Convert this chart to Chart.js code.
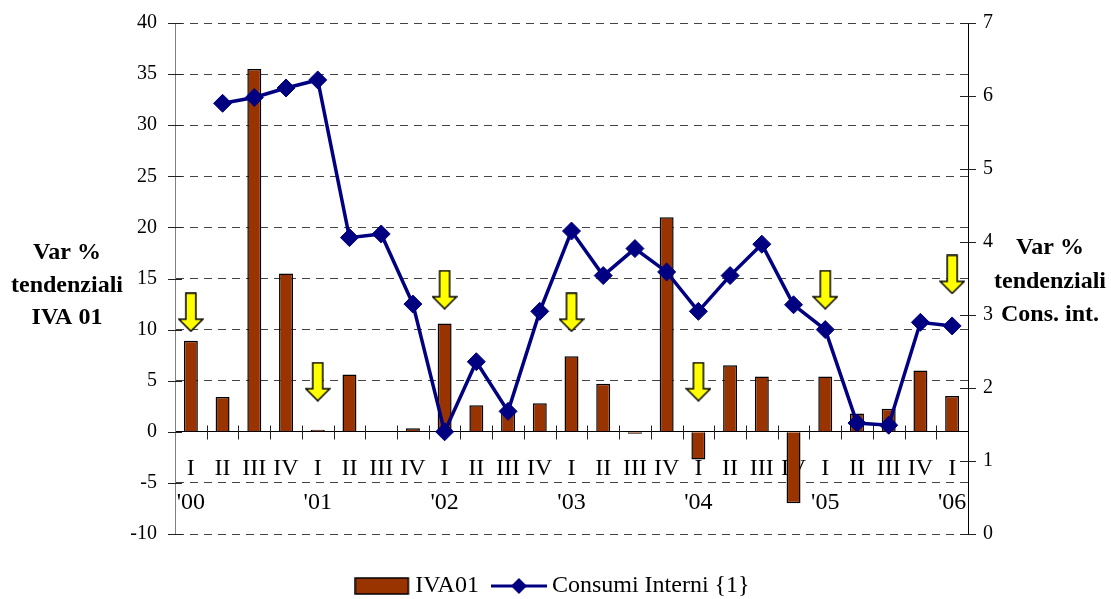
<!DOCTYPE html>
<html>
<head>
<meta charset="utf-8">
<script src="https://cdn.jsdelivr.net/npm/chart.js@4.4.0/dist/chart.umd.min.js"></script>
<style>
html,body{margin:0;padding:0;background:#fff;}
</style>
</head>
<body>
<canvas id="my_Chart" width="1111" height="599"></canvas>
<script>
// quarters I '00 .. I '06
var quarters = ['I','II','III','IV','I','II','III','IV','I','II','III','IV','I','II','III','IV','I','II','III','IV','I','II','III','IV','I'];
var years = ["'00",'','','',"'01",'','','',"'02",'','','',"'03",'','','',"'04",'','','',"'05",'','','',"'06"];
var iva01 = [8.9,3.4,35.5,15.5,0.2,5.6,0,0.35,10.6,2.6,2.0,2.8,7.4,4.7,-0.2,21.0,-2.7,6.5,5.4,-7.0,5.4,1.8,2.25,6.0,3.5];
var consumiInterni = [null,5.90,5.98,6.11,6.22,4.06,4.11,3.15,1.40,2.36,1.68,3.05,4.15,3.54,3.91,3.59,3.05,3.54,3.97,3.14,2.80,1.52,1.49,2.90,2.85];
// yellow arrows, on the IVA axis
var arrowLevels = [11.7,null,null,null,4.9,null,null,null,13.9,null,null,null,11.7,null,null,null,4.9,null,null,null,13.9,null,null,null,15.4];
var leftTitle = ['Var %','tendenziali','IVA 01'];
var rightTitle = ['Var %','tendenziali','Cons. int.'];

var serif = '"Liberation Serif", "Times New Roman", serif';
var labels = quarters.map(function(q, i){ return [q, years[i]]; });

function makeArrow(){
	var c = document.createElement('canvas');
	c.width = 26; c.height = 40;
	var g = c.getContext('2d');
	g.beginPath();
	g.moveTo(8, 1); g.lineTo(18, 1); g.lineTo(18, 27); g.lineTo(25, 27);
	g.lineTo(13, 39); g.lineTo(1, 27); g.lineTo(8, 27); g.closePath();
	g.fillStyle = '#ffff00'; g.fill();
	g.lineWidth = 1.5; g.strokeStyle = '#000'; g.stroke();
	return c;
}
function makeBarIcon(){
	var c = document.createElement('canvas');
	c.width = 56; c.height = 18;
	var g = c.getContext('2d');
	g.fillStyle = '#993300'; g.fillRect(1, 1, 53, 16);
	g.lineWidth = 1.5; g.strokeStyle = '#000'; g.strokeRect(1, 1, 53, 16);
	return c;
}
function makeLineIcon(){
	var c = document.createElement('canvas');
	c.width = 56; c.height = 18;
	var g = c.getContext('2d');
	g.strokeStyle = '#000080'; g.lineWidth = 3;
	g.beginPath(); g.moveTo(0, 9); g.lineTo(56, 9); g.stroke();
	g.fillStyle = '#000080';
	g.beginPath(); g.moveTo(28, 1); g.lineTo(36, 9); g.lineTo(28, 17); g.lineTo(20, 9); g.closePath(); g.fill();
	return c;
}

function noPad(s){
	s.paddingTop = 0; s.paddingBottom = 0;
}

var extras = {
	id: 'extras',
	beforeDatasetsDraw: function(chart){
		var ctx = chart.ctx, a = chart.chartArea;
		var x = chart.scales.x, y = chart.scales.y, y1 = chart.scales.y1;
		var zero = Math.round(y.getPixelForValue(0)) + 0.5;
		var step = (x.right - x.left) / quarters.length;
		ctx.save();
		ctx.strokeStyle = '#222';
		ctx.lineWidth = 1;
		ctx.beginPath();
		for (var i = 1; i < quarters.length; i++) {
			var px = Math.round(x.left + step * i) + 0.5;
			ctx.moveTo(px, zero - 7); ctx.lineTo(px, zero + 7);
		}
		y.ticks.forEach(function(t, i){
			var py = Math.round(y.getPixelForTick(i)) + 0.5;
			ctx.moveTo(a.left - 7, py); ctx.lineTo(a.left + 7, py);
		});
		y1.ticks.forEach(function(t, i){
			var py = Math.round(y1.getPixelForTick(i)) + 0.5;
			ctx.moveTo(a.right - 8, py); ctx.lineTo(a.right + 8, py);
		});
		ctx.stroke();
		ctx.restore();
	},
	afterDraw: function(chart){
		var ctx = chart.ctx;
		ctx.save();
		ctx.fillStyle = '#000';
		ctx.font = 'bold 24px ' + serif;
		ctx.textAlign = 'center';
		ctx.textBaseline = 'middle';
		var ly = [253, 286, 318], ry = [248, 282, 315];
		leftTitle.forEach(function(t, i){ ctx.fillText(t, 67, ly[i]); });
		rightTitle.forEach(function(t, i){ ctx.fillText(t, 1050, ry[i]); });
		ctx.restore();
	}
};

var barIcon = makeBarIcon(), lineIcon = makeLineIcon();

var myData = {
	type: 'bar',
	data: {
		labels: labels,
		datasets: [{
			label: 'IVA01',
			data: iva01,
			yAxisID: 'y',
			backgroundColor: '#993300',
			borderColor: '#000',
			borderWidth: 1.5,
			barPercentage: 0.44,
			categoryPercentage: 1,
			order: 3
		}, {
			type: 'line',
			label: 'Consumi Interni {1}',
			data: consumiInterni,
			yAxisID: 'y1',
			borderColor: '#000080',
			borderWidth: 3.5,
			backgroundColor: '#000080',
			pointStyle: 'rectRot',
			pointRadius: 9,
			pointBorderWidth: 1,
			tension: 0,
			order: 2
		}, {
			type: 'line',
			label: 'arrows',
			data: arrowLevels,
			yAxisID: 'y',
			showLine: false,
			pointStyle: makeArrow(),
			pointRadius: 5,
			order: 1
		}]
	},
	options: {
		responsive: false,
		animation: false,
		devicePixelRatio: 1,
		layout: { padding: { top: 23, bottom: -9, left: 0, right: 0 } },
		plugins: {
			tooltip: { enabled: false },
			legend: {
				position: 'bottom',
				title: { display: true, text: '', padding: { top: 20, bottom: 0 }, font: { size: 1, lineHeight: 1 } },
				labels: {
					usePointStyle: true,
					pointStyleWidth: 42,
					padding: 19,
					color: '#000',
					font: { family: serif, size: 24 },
					generateLabels: function(chart){
						return [
							{ text: 'IVA01', pointStyle: barIcon, datasetIndex: 0, lineWidth: 0, fontColor: '#000' },
							{ text: 'Consumi Interni {1}', pointStyle: lineIcon, datasetIndex: 1, lineWidth: 0, fontColor: '#000' }
						];
					}
				}
			}
		},
		scales: {
			x: {
				position: { y: 0 },
				offset: true,
				afterFit: noPad,
				grid: { drawOnChartArea: false, drawTicks: false, offset: true },
				border: { display: true, color: '#000', width: 1 },
				ticks: { autoSkip: false, maxRotation: 0, minRotation: 0, padding: 20, color: '#000', font: { family: serif, size: 24, lineHeight: 1.42 } }
			},
			y: {
				position: 'left',
				min: -10, max: 40,
				afterFit: function(s){ s.width = 175; noPad(s); },
				ticks: { stepSize: 5, padding: 18, color: '#000', font: { family: serif, size: 20 } },
				grid: { color: '#444', lineWidth: 1, drawTicks: false },
				border: { display: true, color: '#808080', width: 1, dash: [8, 6] }
			},
			y1: {
				position: 'right',
				min: 0, max: 7,
				afterFit: function(s){ s.width = 143; noPad(s); },
				ticks: { stepSize: 1, padding: 15, color: '#000', font: { family: serif, size: 20 } },
				grid: { drawOnChartArea: false, drawTicks: false },
				border: { display: true, color: '#000', width: 1 }
			}
		}
	},
	plugins: [extras]
};

new Chart(document.getElementById('my_Chart'), myData);
</script>
</body>
</html>
